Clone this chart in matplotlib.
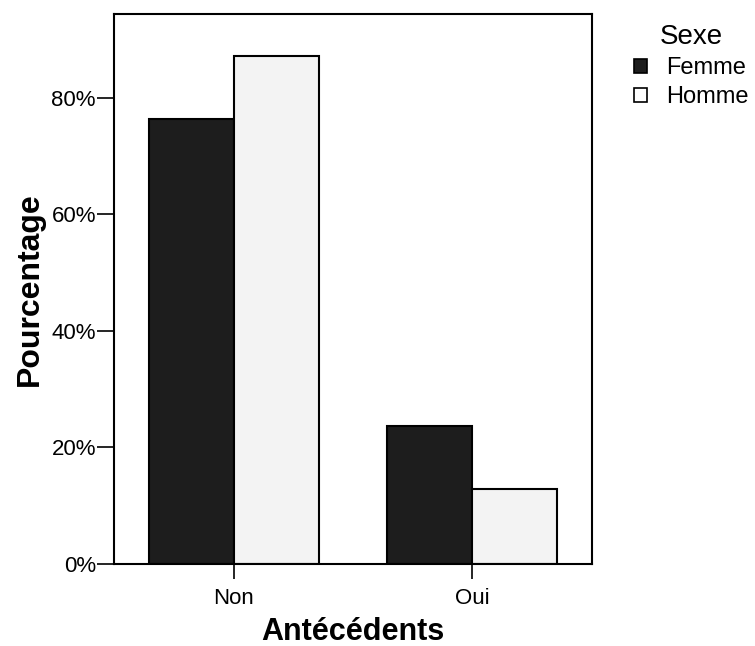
import numpy as np
import matplotlib
matplotlib.use("Agg")
import matplotlib.pyplot as plt
from matplotlib.patches import Patch
from matplotlib.ticker import PercentFormatter

plt.rcParams['font.family'] = ['Liberation Sans', 'DejaVu Sans']

# data (percent within each sex)
categories = ["Non", "Oui"]
femme = [76.4, 23.6]
homme = [87.2, 12.8]
series_names = ["Femme", "Homme"]
yticks = [0, 20, 40, 60, 80]

fig = plt.figure(figsize=(7.55, 6.46), dpi=100)
ax = fig.add_axes([0.151, 0.127, 0.633, 0.851])

x = np.arange(len(categories))
w = 0.357
ax.bar(x - w / 2, femme, width=w, color="#1d1d1d", edgecolor="black", linewidth=1.5)
ax.bar(x + w / 2, homme, width=w, color="#f3f3f3", edgecolor="black", linewidth=1.5)

ax.set_xlim(-0.504, 1.504)
ax.set_ylim(0, 94.3)
ax.set_xticks(x)
ax.set_xticklabels(categories, fontsize=16)
ax.set_yticks(yticks)
ax.yaxis.set_major_formatter(PercentFormatter(decimals=0))
ax.tick_params(axis="y", direction="out", length=12, width=1.2, labelsize=16, pad=1)
ax.tick_params(axis="x", direction="out", length=11, width=1.2, labelsize=16, pad=6)

for s in ax.spines.values():
    s.set_linewidth(1.5)

ax.set_ylabel("Pourcentage", fontsize=23, fontweight="bold", labelpad=5)
ax.set_xlabel("Antécédents", fontsize=22, fontweight="bold", labelpad=6)

# legend
handles = [Patch(facecolor="#1d1d1d", edgecolor="black", linewidth=1.2),
           Patch(facecolor="white", edgecolor="black", linewidth=1.2)]
leg = fig.legend(handles, series_names, title="Sexe", loc="upper left",
                 bbox_to_anchor=(0.834, 0.97), frameon=False, fontsize=17,
                 title_fontsize=20, handlelength=0.55, handleheight=0.55,
                 handletextpad=0.8, labelspacing=0.3, alignment="center",
                 borderaxespad=0, borderpad=0.2)

fig.savefig("out.png", dpi=100)
